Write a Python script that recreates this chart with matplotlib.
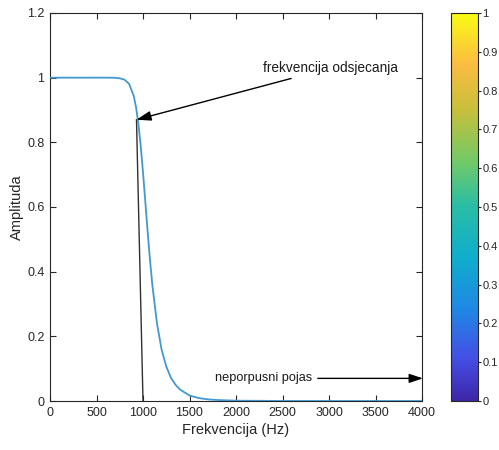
import numpy as np
import matplotlib
matplotlib.use("Agg")
import matplotlib.pyplot as plt
from matplotlib.colors import LinearSegmentedColormap
import matplotlib.cm as cm
import matplotlib.colors as mcolors

# Data
freq = [0, 100, 200, 300, 400, 500, 600, 700, 750, 800, 850, 900, 925, 950, 975,
        1000, 1025, 1050, 1075, 1100, 1150, 1200, 1250, 1300, 1350, 1400, 1500,
        1600, 1700, 1800, 2000, 2500, 3000, 3500, 4000]
amplitude = [1.0, 1.0, 1.0, 1.0, 1.0, 1.0, 1.0, 0.9996, 0.998, 0.994, 0.981, 0.944,
             0.909, 0.858, 0.790, 0.707, 0.616, 0.523, 0.437, 0.360, 0.240, 0.159,
             0.107, 0.072, 0.050, 0.035, 0.017, 0.009, 0.005, 0.003, 0.001, 0.0001,
             0.0, 0.0, 0.0]

cutoff_line_x = [1000, 930]
cutoff_line_y = [0, 0.87]

label_cutoff = "frekvencija odsjecanja"
label_stop = "neporpusni pojas"
xticks = [0, 500, 1000, 1500, 2000, 2500, 3000, 3500, 4000]
yticks = [0, 0.2, 0.4, 0.6, 0.8, 1.0, 1.2]
cbar_ticks = [0, 0.1, 0.2, 0.3, 0.4, 0.5, 0.6, 0.7, 0.8, 0.9, 1.0]

plt.rcParams['font.family'] = ['Liberation Sans', 'DejaVu Sans']
gray = '#262626'

fig = plt.figure(figsize=(4.99, 4.5), dpi=100)
ax = fig.add_axes([50/499, 1-401/450, 372/499, 388/450])
cax = fig.add_axes([451/499, 1-401/450, 27/499, 388/450])

ax.plot(freq, amplitude, color='#4398d0', lw=1.3, zorder=3)
ax.plot(cutoff_line_x, cutoff_line_y, color='#303030', lw=1.0, zorder=2)

ax.set_xlim(0, 4000)
ax.set_ylim(0, 1.2)
ax.set_xticks(xticks)
ax.set_xticklabels([str(t) for t in xticks])
ax.set_yticks(yticks)
ax.set_yticklabels(['0', '0.2', '0.4', '0.6', '0.8', '1', '1.2'])
ax.tick_params(direction='in', length=4, width=0.8, top=True, right=True,
               colors=gray, labelsize=9, pad=4)
for s in ax.spines.values():
    s.set_color(gray)
    s.set_linewidth(0.8)
ax.set_xlabel('Frekvencija (Hz)', fontsize=10.5, color=gray, labelpad=3)
ax.set_ylabel('Amplituda', fontsize=10.5, color=gray, labelpad=2)

ap = dict(arrowstyle='-|>,head_length=0.9,head_width=0.3', color='black', lw=1.0,
          shrinkA=2, shrinkB=0)
ax.annotate(label_cutoff, xy=(cutoff_line_x[1], cutoff_line_y[1]), xytext=(2290, 1.03),
            fontsize=9.8, color='#1a1a1a', ha='left', va='center', arrowprops=ap)
ax.annotate(label_stop, xy=(4010, 0.07), xytext=(1775, 0.07),
            fontsize=9.2, color='#1a1a1a', ha='left', va='center', arrowprops=ap,
            annotation_clip=False)

parula_anchors = [
    (0.00, (0.2422, 0.1504, 0.6603)),
    (0.11, (0.2650, 0.3100, 0.9000)),
    (0.24, (0.1200, 0.5400, 0.8900)),
    (0.37, (0.0600, 0.6800, 0.8000)),
    (0.50, (0.1600, 0.7400, 0.6500)),
    (0.62, (0.4500, 0.7900, 0.4000)),
    (0.75, (0.7800, 0.7500, 0.2300)),
    (0.87, (0.9856, 0.7372, 0.2537)),
    (1.00, (0.9769, 0.9839, 0.0805)),
]
parula = LinearSegmentedColormap.from_list('parula', parula_anchors)
sm = cm.ScalarMappable(norm=mcolors.Normalize(0, 1), cmap=parula)
cb = fig.colorbar(sm, cax=cax, ticks=cbar_ticks)
cb.ax.set_yticklabels(['0', '0.1', '0.2', '0.3', '0.4', '0.5', '0.6', '0.7', '0.8', '0.9', '1'])
cb.ax.tick_params(direction='out', length=2, width=0.8, colors=gray, labelsize=8, pad=1)
cb.outline.set_edgecolor(gray)
cb.outline.set_linewidth(0.8)

fig.savefig('out.png', dpi=100)
